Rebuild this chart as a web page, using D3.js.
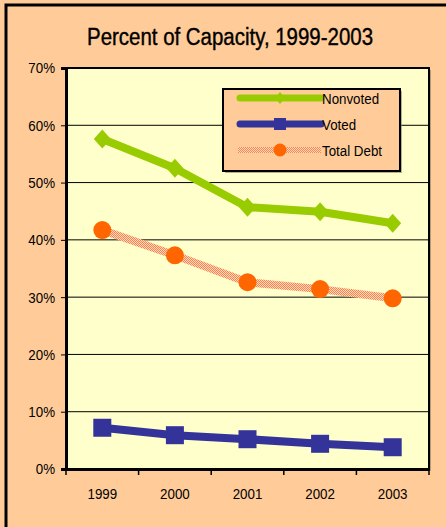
<!DOCTYPE html>
<html><head><meta charset="utf-8">
<script src="https://cdn.jsdelivr.net/npm/d3@7"></script>
<style>html,body{margin:0;padding:0;background:#FFCC99;overflow:hidden}</style>
</head><body>
<svg id="c" width="446" height="527"></svg>
<script>
const years = ["1999","2000","2001","2002","2003"];
const nonvoted = [57.6, 52.5, 45.7, 44.9, 42.9];
const voted = [7.2, 5.9, 5.2, 4.4, 3.8];
const totalDebt = [41.7, 37.3, 32.6, 31.4, 29.8];
const yTicks = [0,10,20,30,40,50,60,70];
const title = "Percent of Capacity, 1999-2003";
const seriesNames = ["Nonvoted","Voted","Total Debt"];

const FONT = "'Liberation Sans Narrow','Arial Narrow','Liberation Sans',Arial,sans-serif";
const NARROW = 0.86;
const svg = d3.select("#c");
const defs = svg.append("defs");
const pat = defs.append("pattern").attr("id","chk").attr("width",2).attr("height",2).attr("patternUnits","userSpaceOnUse");
pat.append("rect").attr("width",2).attr("height",2).attr("fill","#FFDDBB");
pat.append("rect").attr("width",1).attr("height",1).attr("fill","#FF8050");
pat.append("rect").attr("x",1).attr("y",1).attr("width",1).attr("height",1).attr("fill","#FF8050");

svg.append("rect").attr("x",0).attr("y",0).attr("width",446).attr("height",527).attr("fill","#FFCC99");
svg.append("rect").attr("x",6).attr("y",5).attr("width",460).attr("height",540).attr("fill","none").attr("stroke","#000").attr("stroke-width",3);

svg.append("text").attr("id","title").attr("x",230).attr("y",45).attr("text-anchor","middle")
  .attr("font-family",FONT).attr("font-size",23).attr("fill","#000").attr("stroke","#000").attr("stroke-width",0.4).text(title);

const L=66,R=429,T=68,B=469;
const x = d3.scaleBand().domain(years).range([L,R]);
const y = d3.scaleLinear().domain([0,70]).range([B,T]);

svg.append("rect").attr("x",L+2).attr("y",T+2).attr("width",R-L).attr("height",B-T).attr("fill","#808060").attr("opacity",0.6);
svg.append("rect").attr("x",L).attr("y",T).attr("width",R-L).attr("height",B-T).attr("fill","#FFFFCC").attr("stroke","#000").attr("stroke-width",2);

svg.append("g").selectAll("line").data(yTicks.filter(d=>d>0&&d<70)).join("line")
  .attr("x1",L).attr("x2",R).attr("y1",d=>y(d)).attr("y2",d=>y(d)).attr("stroke","#000").attr("stroke-width",1);

const ya = svg.append("g").attr("transform",`translate(${L},0)`)
  .call(d3.axisLeft(y).tickValues(yTicks).tickFormat(d=>d+"%").tickSize(5).tickPadding(6));
ya.select(".domain").attr("stroke","#000").attr("stroke-width",3);
ya.selectAll("text").attr("class","nt").attr("font-family",FONT).attr("font-size",15.5).attr("fill","#000");

const xa = svg.append("g").attr("transform",`translate(0,${B})`)
  .call(d3.axisBottom(x).tickSize(0).tickPadding(19));
xa.select(".domain").attr("stroke","#000").attr("stroke-width",3);
xa.selectAll("text").attr("class","nt").attr("font-family",FONT).attr("font-size",15.5).attr("fill","#000");
xa.selectAll(".xt").data([...years.map(d=>x(d)), R]).join("line").attr("class","xt")
  .attr("x1",d=>d).attr("x2",d=>d).attr("y1",0).attr("y2",6).attr("stroke","#000").attr("stroke-width",1.5);

const cx = d=>x(d)+x.bandwidth()/2;
const line = d3.line().x((d,i)=>cx(years[i])).y(d=>y(d));
const diamond = (g, px, py, sx, sy) => g.append("path").attr("d",`M${px},${py-sy}L${px+sx},${py}L${px},${py+sy}L${px-sx},${py}Z`).attr("fill","#99CC00");

svg.append("path").datum(totalDebt).attr("d",line).attr("fill","none").attr("stroke","url(#chk)").attr("stroke-width",8);
svg.append("g").selectAll("circle").data(totalDebt).join("circle")
  .attr("cx",(d,i)=>cx(years[i])).attr("cy",d=>y(d)).attr("r",9).attr("fill","#FF6600");

svg.append("path").datum(nonvoted).attr("d",line).attr("fill","none").attr("stroke","#99CC00").attr("stroke-width",8).attr("stroke-linejoin","round");
const gn = svg.append("g");
nonvoted.forEach((d,i)=>diamond(gn, cx(years[i]), y(d), 8.5, 9.5));

svg.append("path").datum(voted).attr("d",line).attr("fill","none").attr("stroke","#333399").attr("stroke-width",8).attr("stroke-linejoin","round");
svg.append("g").selectAll("rect").data(voted).join("rect")
  .attr("x",(d,i)=>cx(years[i])-9).attr("y",d=>y(d)-9).attr("width",18).attr("height",18).attr("fill","#333399");

const lg = svg.append("g");
lg.append("rect").attr("x",225).attr("y",91).attr("width",177).attr("height",82).attr("fill","#808060").attr("opacity",0.6);
lg.append("rect").attr("x",223).attr("y",89).attr("width",177).attr("height",82).attr("fill","#FFCC99").attr("stroke","#000").attr("stroke-width",2);
const ly = [98,124,150];
const lx1=240, lx2=321, lm=280;
lg.append("line").attr("x1",lx1).attr("x2",lx2).attr("y1",ly[0]).attr("y2",ly[0]).attr("stroke","#99CC00").attr("stroke-width",7).attr("stroke-linecap","round");
diamond(lg, lm, ly[0], 5, 6);
lg.append("line").attr("x1",lx1).attr("x2",lx2).attr("y1",ly[1]).attr("y2",ly[1]).attr("stroke","#333399").attr("stroke-width",7).attr("stroke-linecap","round");
lg.append("rect").attr("x",lm-6).attr("y",ly[1]-6).attr("width",12).attr("height",12).attr("fill","#333399");
lg.append("line").attr("x1",lx1-2).attr("x2",lx2).attr("y1",ly[2]).attr("y2",ly[2]).attr("stroke","url(#chk)").attr("stroke-width",6);
lg.append("circle").attr("cx",lm).attr("cy",ly[2]).attr("r",6.5).attr("fill","#FF6600");
lg.selectAll("text").data(seriesNames).join("text").attr("class","nt")
  .attr("x",322).attr("y",(d,i)=>ly[i]+6).attr("font-family",FONT).attr("font-size",15.5).attr("fill","#000").text(d=>d);

svg.selectAll("text.nt").each(function(){
  const w = this.getComputedTextLength();
  d3.select(this).attr("textLength", w*NARROW).attr("lengthAdjust","spacingAndGlyphs");
});
svg.select("#title").attr("textLength", 286).attr("lengthAdjust","spacingAndGlyphs");
</script>
</body></html>
